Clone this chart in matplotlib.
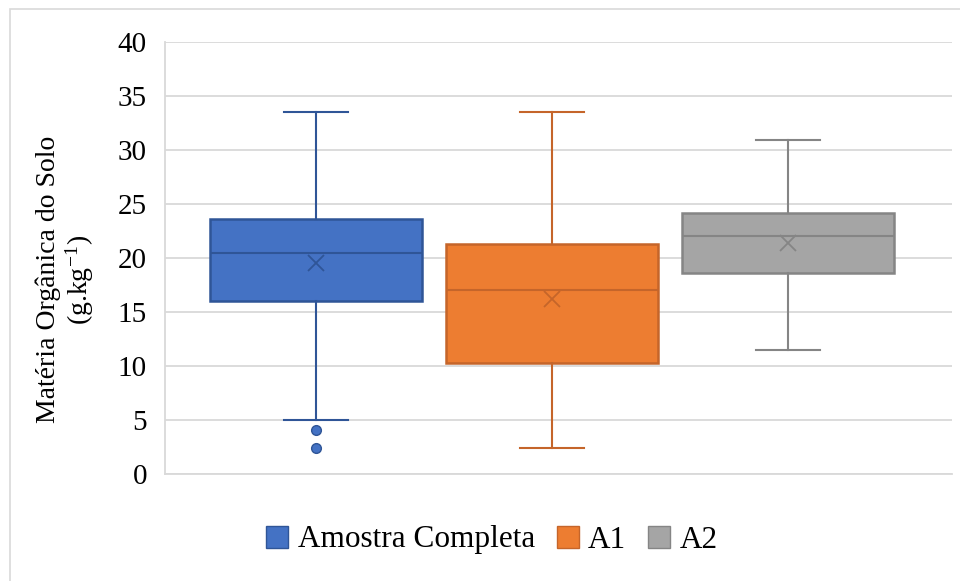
import numpy as np
import matplotlib
matplotlib.use('Agg')
import matplotlib.pyplot as plt
from matplotlib.patches import Rectangle, Patch

# values
series = ['Amostra Completa', 'A1', 'A2']
whislo = [5.0, 2.4, 11.5]
q1 = [16.0, 10.3, 18.6]
med = [20.5, 17.0, 22.0]
q3 = [23.6, 21.3, 24.2]
whishi = [33.5, 33.5, 30.9]
means = [19.5, 16.2, 21.4]
fliers = [[4.1, 2.4], [], []]

face_colors = ['#4472C4', '#ED7D31', '#A5A5A5']
edge_colors = ['#2F5597', '#C5652A', '#858585']

plt.rcParams['font.family'] = ['Liberation Serif', 'DejaVu Serif']
plt.rcParams['mathtext.fontset'] = 'stix'

fig = plt.figure(figsize=(9.6, 5.81), dpi=100)
ax = fig.add_axes([165 / 960, 1 - 474 / 581, 787 / 960, 432 / 581])

positions = [1, 2, 3]
for i in range(len(series)):
    st = [{'whislo': whislo[i], 'q1': q1[i], 'med': med[i], 'q3': q3[i],
           'whishi': whishi[i], 'mean': means[i], 'fliers': fliers[i], 'label': series[i]}]
    ec = edge_colors[i]
    ax.bxp(st, positions=[positions[i]], widths=0.9, capwidths=0.27,
           patch_artist=True, showmeans=True, manage_ticks=False,
           boxprops=dict(facecolor=face_colors[i], edgecolor=ec, linewidth=1.8),
           medianprops=dict(color=ec, linewidth=1.5),
           whiskerprops=dict(color=ec, linewidth=1.5),
           capprops=dict(color=ec, linewidth=1.5),
           meanprops=dict(marker='x', markeredgecolor=ec, markersize=12, markeredgewidth=1.3),
           flierprops=dict(marker='o', markerfacecolor=face_colors[i], markeredgecolor=ec,
                           markersize=7))

ax.set_xlim(0.36, 3.695)
ax.set_ylim(0, 40)
ax.set_yticks(np.arange(0, 41, 5))
ax.set_xticks([])
ax.yaxis.grid(True, color='#D9D9D9', linewidth=1.3)
ax.set_axisbelow(True)
for s in ['top', 'right']:
    ax.spines[s].set_visible(False)
ax.spines['left'].set_color('#D9D9D9')
ax.spines['bottom'].set_color('#D9D9D9')
ax.spines['left'].set_linewidth(1.3)
ax.spines['bottom'].set_linewidth(1.3)
ax.tick_params(axis='y', length=0, labelsize=21, pad=13)

ax.set_ylabel('Matéria Orgânica do Solo\n(g.kg$^{\\mathregular{-1}}$)', fontsize=20,
              linespacing=1.1)
ax.yaxis.set_label_coords((96 - 165) / 787, 0.45)

handles = [Patch(facecolor=face_colors[i], edgecolor=edge_colors[i], label=series[i])
           for i in range(len(series))]
fig.legend(handles=handles, loc='center', bbox_to_anchor=(492 / 960, 1 - 540 / 581),
           ncol=3, frameon=False, fontsize=22.5, handlelength=0.7, handleheight=0.7,
           handletextpad=0.3, columnspacing=0.7)

fig.patches.append(Rectangle((9.5 / 960, -0.05), 1.2, 1 - 8.5 / 581 + 0.05,
                             transform=fig.transFigure, fill=False,
                             edgecolor='#D9D9D9', linewidth=1.2))

fig.savefig('out.png', dpi=100)
